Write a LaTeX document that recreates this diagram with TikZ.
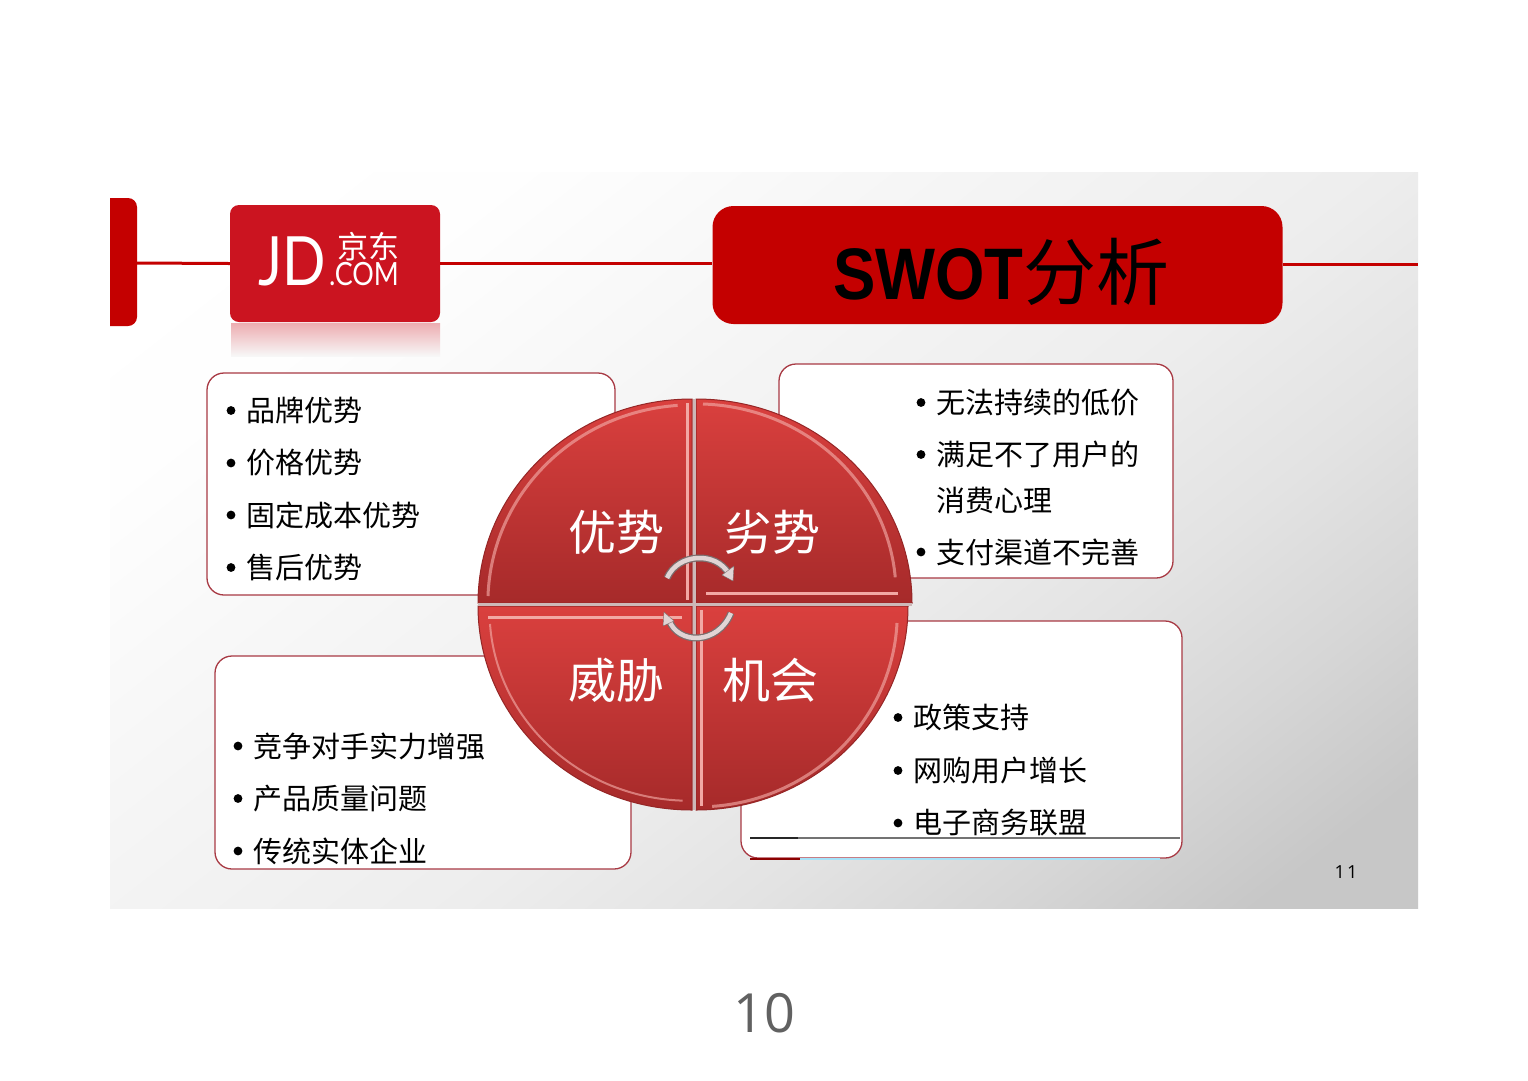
\documentclass[tikz,border=0pt]{standalone}
\usepackage{fontspec}
\setmainfont{Noto Sans CJK SC}
\newfontfamily\latinbold[FakeStretch=.87]{Liberation Sans}
\newfontfamily\logofont[FakeStretch=.84]{Lato}
\newfontfamily\numfont{Open Sans}
\usetikzlibrary{arrows.meta}
\definecolor{jdred}{HTML}{C40000}
\definecolor{logored}{HTML}{CB1420}
\definecolor{panelline}{HTML}{A83A44}
\definecolor{pielight}{HTML}{DA403E}
\definecolor{piedark}{HTML}{A62A2A}
\definecolor{piehigh}{HTML}{F2A8A4}
\definecolor{pieseam}{HTML}{CDB8B8}
\pgfdeclareverticalshading{slideback}{100bp}{%
	rgb(0bp)=(0.78,0.78,0.78); rgb(20bp)=(0.78,0.78,0.78); rgb(28bp)=(0.84,0.84,0.84);
	rgb(36bp)=(0.89,0.89,0.89); rgb(45bp)=(0.93,0.93,0.93); rgb(58bp)=(0.96,0.96,0.96); rgb(72bp)=(0.995,0.995,0.995); rgb(80bp)=(1,1,1); rgb(100bp)=(1,1,1)}
\tikzset{
	panel/.style={draw=panelline,fill=white,line width=1.3pt,rounded corners=17pt,inner sep=0pt},
	listitem/.style={anchor=west,inner sep=0pt,font=\fontsize{29}{32}\selectfont,text=black},
	quartertext/.style={inner sep=0pt,font=\fontsize{48}{50}\selectfont,text=white},
	quarterpie/.style={top color=pielight,bottom color=piedark,draw=piedark!90!black,line width=1pt},
	bevel/.style={piehigh,line width=3pt},
	edgebevel/.style={piehigh,line width=3pt,opacity=.65},
	seam/.style={pieseam,line width=3pt},
	headline/.style={jdred,line width=3pt},
	turnshadow/.style={line width=7pt,draw=pieseam!60!black},
	turnarc/.style={line width=4.5pt,draw=pieseam!60!white}
}
\newcommand{\listline}[4]{%
	\fill[black] (#2-15,#3) circle (4.4pt);
	\node[listitem] (#1) at (#2,#3) {#4};}
\begin{document}
\begin{tikzpicture}[x=1pt,y=-1pt]
	\useasboundingbox (0,0) rectangle (1528,1080);
	\fill[white] (0,0) rectangle (1528,1080);
	% slide
	\shade[shading=slideback,shading angle=38] (110,172) rectangle (1418,908);

	% header
	\fill[jdred,rounded corners=9pt] (100,198) rectangle (137,326);
	\fill[white] (100,190) rectangle (110,330);
	\coordinate (barright) at (137,263);
	\coordinate (lineend) at (1418,264);
	\shade[top color=logored!35!white,bottom color=white!97!black] (231,323) rectangle (440,356);
	\node[fill=logored,rounded corners=9pt,minimum width=210pt,minimum height=117pt,inner sep=0pt] (jdbox) at (335,263.5) {};
	\node[fill=jdred,rounded corners=21pt,minimum width=570pt,minimum height=118pt,inner sep=0pt] (titlebox) at (997.5,265) {};
	\draw[headline] (barright) -- (jdbox.west);
	\draw[headline] (jdbox.east) -- (jdbox.east-|titlebox.west);
	\draw[headline] (titlebox.east|-lineend) -- (lineend);
	\node[inner sep=0pt,text=white,font=\logofont\fontsize{68}{70}\selectfont] (jdmark) at (292.5,261) {JD};
	\node[inner sep=0pt,text=white,text height=24pt,text depth=0pt,font=\fontsize{31}{31}\selectfont] (jdcn) at (368.5,246.5) {京东};
	\node[inner sep=0pt,text=white,font=\logofont\fontsize{32}{33}\selectfont] (jdcom) at (364,274) {.COM};
	\node[inner sep=0pt,text=black,font=\fontsize{73}{75}\selectfont] (titletext) at (1001.5,272) {{\latinbold\bfseries SWOT}分析};

	% panels
	\node[panel,minimum width=408pt,minimum height=222pt] (strengthbox) at (411,484) {};
	\node[panel,minimum width=394pt,minimum height=214pt] (weakbox) at (976,471) {};
	\node[panel,minimum width=416pt,minimum height=213pt] (threatbox) at (423,762.5) {};
	\node[panel,minimum width=441pt,minimum height=237pt] (chancebox) at (961.5,739.5) {};
	\draw[black!55,line width=1.2pt] (798,838) -- (1180,838);
	\draw[black!85,line width=1.2pt] (750,838) -- (798,838);
	\draw[cyan!35,line width=2pt] (800,858.5) -- (1160,858.5);
	\draw[red!55!black,line width=2pt] (750,858.5) -- (800,858.5);

	% lists
	\listline{sa}{246}{410.5}{品牌优势}
	\listline{sb}{246}{463}{价格优势}
	\listline{sc}{246}{515}{固定成本优势}
	\listline{sd}{246}{567.5}{售后优势}
	\listline{wa}{936}{402.5}{无法持续的低价}
	\listline{wb}{936}{454.5}{满足不了用户的}
	\node[listitem] (wbb) at (936,500) {消费心理};
	\listline{wc}{936}{552}{支付渠道不完善}
	\listline{ta}{253}{746}{竞争对手实力增强}
	\listline{tb}{253}{798.5}{产品质量问题}
	\listline{tc}{253}{851}{传统实体企业}
	\listline{ca}{913}{717.5}{政策支持}
	\listline{cb}{913}{770.5}{网购用户增长}
	\listline{cc}{913}{823}{电子商务联盟}

	% pie
	\shadedraw[quarterpie] (692,603) -- (478,603) arc[start angle=180,end angle=90,x radius=214pt,y radius=204pt] -- cycle;
	\shadedraw[quarterpie] (696,603) -- (696,399) arc[start angle=90,end angle=0,x radius=216pt,y radius=204pt] -- cycle;
	\shadedraw[quarterpie] (692,606) -- (692,810) arc[start angle=270,end angle=180,x radius=214pt,y radius=204pt] -- cycle;
	\shadedraw[quarterpie] (696,606) -- (908,606) arc[start angle=0,end angle=-90,x radius=212pt,y radius=204pt] -- cycle;
	\draw[edgebevel] (488,596) arc[start angle=178,end angle=94,x radius=204pt,y radius=198pt];
	\draw[edgebevel] (703,404) arc[start angle=88,end angle=5,x radius=200pt,y radius=190pt];
	\draw[edgebevel,line width=2pt] (490,624) arc[start angle=184,end angle=268,x radius=200pt,y radius=190pt];
	\draw[edgebevel] (897,623) arc[start angle=-3,end angle=-86,x radius=199pt,y radius=194pt];
	\draw[bevel] (687,403) -- (687,600);
	\draw[bevel] (706,593) -- (898,593);
	\draw[bevel] (488,617) -- (682,617);
	\draw[bevel] (701,610) -- (701,806);
	\draw[seam] (478,604.5) -- (912,604.5);
	\draw[seam] (694,399) -- (694,810);
	\node[quartertext] (strength) at (616,532) {优势};
	\node[quartertext] (weak) at (772,532) {劣势};
	\node[quartertext] (threat) at (616,680) {威胁};
	\node[quartertext] (chance) at (770,680) {机会};

	% turning arrows
	\draw[turnshadow] (667,578) .. controls (678,553) and (716,551) .. (729,574);
	\draw[turnarc] (667,578) .. controls (678,553) and (716,551) .. (729,574);
	\fill[pieseam!60!white,draw=pieseam!60!black] (722,575) -- (734,566) -- (733,581) -- cycle;
	\draw[turnshadow] (731,613) .. controls (718,645) and (678,645) .. (669,620);
	\draw[turnarc] (731,613) .. controls (718,645) and (678,645) .. (669,620);
	\fill[pieseam!60!white,draw=pieseam!60!black] (674,621) -- (664,612) -- (663,626) -- cycle;

	% numbers
	\node[inner sep=0pt,text=black,font=\numfont\fontsize{18}{20}\selectfont] (slidenum) at (1346,872) {1\hspace{2pt}1};
	\node[inner sep=0pt,text=black!62,font=\numfont\fontsize{54}{56}\selectfont] (pagenum) at (764,1013) {10};
\end{tikzpicture}
\end{document}
